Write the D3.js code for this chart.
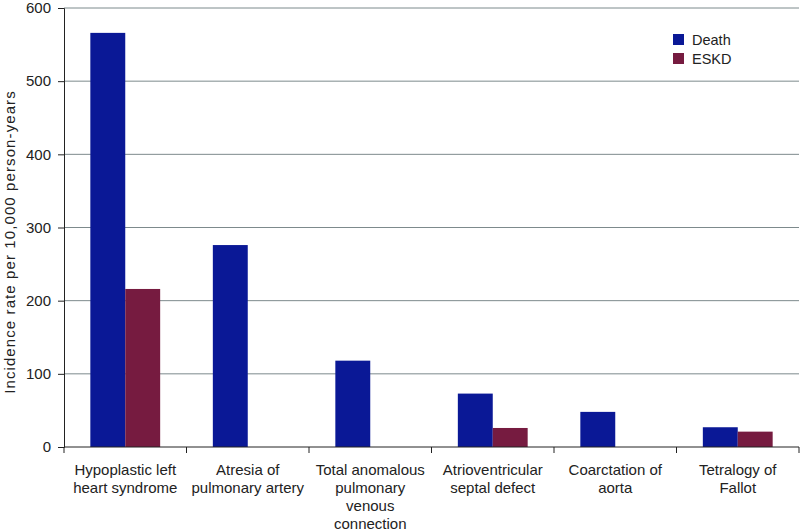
<!DOCTYPE html>
<html>
<head>
<meta charset="utf-8">
<script src="https://cdn.jsdelivr.net/npm/d3@7"></script>
<style>
  body { margin: 0; background: #fff; }
  text { font-family: "Liberation Sans", Arial, sans-serif; }
</style>
</head>
<body>
<div id="chart"></div>
<script>
// data
const categories = [
  ["Hypoplastic left", "heart syndrome"],
  ["Atresia of", "pulmonary artery"],
  ["Total anomalous", "pulmonary", "venous", "connection"],
  ["Atrioventricular", "septal defect"],
  ["Coarctation of", "aorta"],
  ["Tetralogy of", "Fallot"]
];
const seriesNames = ["Death", "ESKD"];
const deathValues = [566, 276, 118, 73, 48, 27];
const eskdValues = [216, 0, 0, 26, 0, 21];
const yTicks = [0, 100, 200, 300, 400, 500, 600];
const colors = ["#0a1896", "#761b40"];

const width = 802, height = 532;
const margin = {top: 8, right: 3, bottom: 85, left: 64};

const svg = d3.select("#chart").append("svg")
  .attr("width", width)
  .attr("height", height);

const keys = categories.map((c, i) => i);

const x = d3.scaleBand()
  .domain(keys)
  .range([margin.left, width - margin.right])
  .paddingInner(0.43)
  .paddingOuter(0.215);

const xSub = d3.scaleBand()
  .domain(seriesNames)
  .range([0, x.bandwidth()]);

const y = d3.scaleLinear()
  .domain([0, 600])
  .range([height - margin.bottom, margin.top]);

// gridlines
svg.append("g")
  .selectAll("line")
  .data(yTicks.filter(d => d > 0))
  .enter().append("line")
  .attr("x1", margin.left)
  .attr("x2", width - margin.right)
  .attr("y1", d => y(d))
  .attr("y2", d => y(d))
  .attr("stroke", "#7d8a8c")
  .attr("stroke-width", 1);

// bars
const rows = keys.map(i => ({i: i, values: [deathValues[i], eskdValues[i]]}));
const group = svg.append("g")
  .selectAll("g")
  .data(rows)
  .enter().append("g")
  .attr("transform", d => `translate(${x(d.i)},0)`);

group.selectAll("rect")
  .data(d => d.values.map((v, k) => ({key: seriesNames[k], value: v, k: k})))
  .enter().append("rect")
  .filter(d => d.value > 0)
  .attr("x", d => xSub(d.key))
  .attr("width", xSub.bandwidth())
  .attr("y", d => y(d.value))
  .attr("height", d => y(0) - y(d.value))
  .attr("fill", d => colors[d.k]);

// y axis
const yAxis = svg.append("g")
  .attr("transform", `translate(${margin.left},0)`)
  .call(d3.axisLeft(y).tickValues(yTicks).tickSize(6).tickPadding(7));
yAxis.select(".domain").attr("stroke", "#222");
yAxis.selectAll(".tick line").attr("stroke", "#222");
yAxis.selectAll("text").attr("font-size", 15).attr("fill", "#222")
  .style("font-family", "Liberation Sans, Arial, sans-serif");

// x axis with ticks at category boundaries
const step = x.step();
const xStart = margin.left;
svg.append("line")
  .attr("x1", xStart).attr("x2", width - margin.right)
  .attr("y1", y(0)).attr("y2", y(0))
  .attr("stroke", "#222");
svg.append("g")
  .selectAll("line")
  .data(d3.range(categories.length + 1))
  .enter().append("line")
  .attr("x1", d => xStart + d * step)
  .attr("x2", d => xStart + d * step)
  .attr("y1", y(0))
  .attr("y2", y(0) + 6)
  .attr("stroke", "#222");

// category labels
const labels = svg.append("g")
  .selectAll("text")
  .data(rows)
  .enter().append("text")
  .attr("text-anchor", "middle")
  .attr("font-size", 15)
  .attr("fill", "#222")
  .attr("transform", d => `translate(${x(d.i) + x.bandwidth() / 2},${y(0) + 28})`);
labels.selectAll("tspan")
  .data(d => categories[d.i])
  .enter().append("tspan")
  .attr("x", 0)
  .attr("y", (d, j) => j * 18)
  .text(d => d);

// y axis title
svg.append("text")
  .attr("transform", "translate(15,242) rotate(-90)")
  .attr("text-anchor", "middle")
  .attr("font-size", 15)
  .attr("letter-spacing", 1.1)
  .attr("fill", "#222")
  .text("Incidence rate per 10,000 person-years");

// legend
const legend = svg.append("g")
  .attr("transform", "translate(673,34)")
  .selectAll("g")
  .data(seriesNames)
  .enter().append("g")
  .attr("transform", (d, i) => `translate(0,${i * 19})`);
legend.append("rect")
  .attr("width", 11).attr("height", 11)
  .attr("fill", (d, i) => colors[i]);
legend.append("text")
  .attr("x", 19).attr("y", 10.5)
  .attr("font-size", 14.5)
  .attr("fill", "#222")
  .text(d => d);
</script>
</body>
</html>
